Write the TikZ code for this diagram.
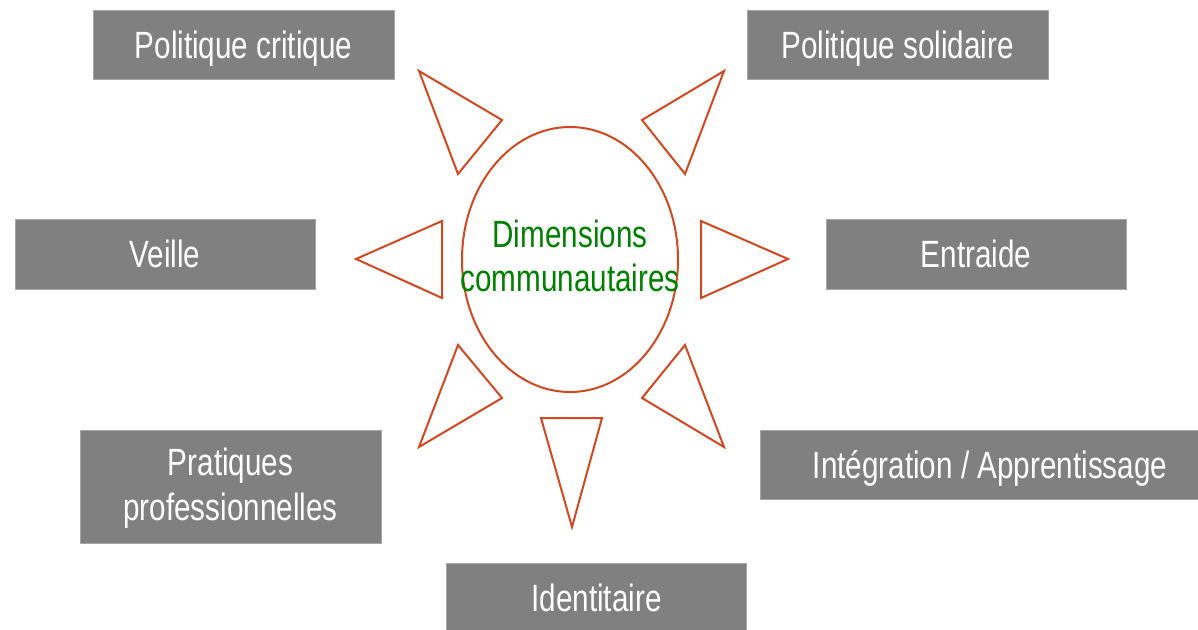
\documentclass[tikz,border=0pt]{standalone}
\usepackage{fontspec}
\setmainfont{Liberation Sans}
\newfontfamily\boxfont[FakeStretch=0.78]{Liberation Sans}
\usetikzlibrary{shapes.geometric}
\definecolor{boxgray}{RGB}{128,128,128}
\definecolor{rayred}{RGB}{210,72,32}
\definecolor{titlegreen}{RGB}{0,128,0}
\tikzset{
  catbox/.style={fill=boxgray, draw=boxgray!70!white, line width=0.8pt, text=white, inner sep=0pt,
    font=\boxfont\fontsize{38}{45}\selectfont, align=center, text height=27pt, text depth=0pt},
  ray/.style={draw=rayred, line width=2pt, line join=miter},
}
\begin{document}
\begin{tikzpicture}[x=1pt,y=-1pt]
\useasboundingbox[fill=white] (0,0) rectangle (1198,629);
% boxes
\node[catbox, minimum width=301pt, minimum height=69pt] (pc) at (243.5,44.5) {Politique critique};
\node[catbox, minimum width=301pt, minimum height=69pt] (ps) at (897.5,44.5) {Politique solidaire};
\node[catbox, minimum width=300pt, minimum height=70pt] (ve) at (165,254) {Veille};
\node[catbox, minimum width=300pt, minimum height=70pt] (en) at (976,254) {Entraide};
\node[catbox, minimum width=301pt, minimum height=113pt, text height=67pt, text depth=0pt] (pp) at (230.5,486.5) {Pratiques\\professionnelles};
\node[catbox, minimum width=460pt, minimum height=69pt] (ia) at (990,464.5) {Intégration / Apprentissage};
\node[catbox, minimum width=300pt, minimum height=70pt] (id) at (596.5,598) {Identitaire};
% centre
\node[ellipse, draw=rayred, line width=2pt, minimum width=216pt, minimum height=265pt, inner sep=0pt] (core) at (570,259.5) {};
\node[text=titlegreen, font=\boxfont\fontsize{38}{44}\selectfont, align=center, inner sep=0pt, text height=63pt, text depth=0pt] (title) at (core.center) {Dimensions\\communautaires};
% rays
\draw[ray] (419,71) -- (502,120) -- (458,174) -- cycle;
\draw[ray] (724,71) -- (642,120) -- (685,174) -- cycle;
\draw[ray] (356,259) -- (442,221) -- (442,298) -- cycle;
\draw[ray] (788,259) -- (701,221) -- (701,298) -- cycle;
\draw[ray] (458,345) -- (502,398) -- (419,447) -- cycle;
\draw[ray] (685,345) -- (642,398) -- (724,447) -- cycle;
\draw[ray] (541,418) -- (602,418) -- (572,527) -- cycle;
\end{tikzpicture}
\end{document}
